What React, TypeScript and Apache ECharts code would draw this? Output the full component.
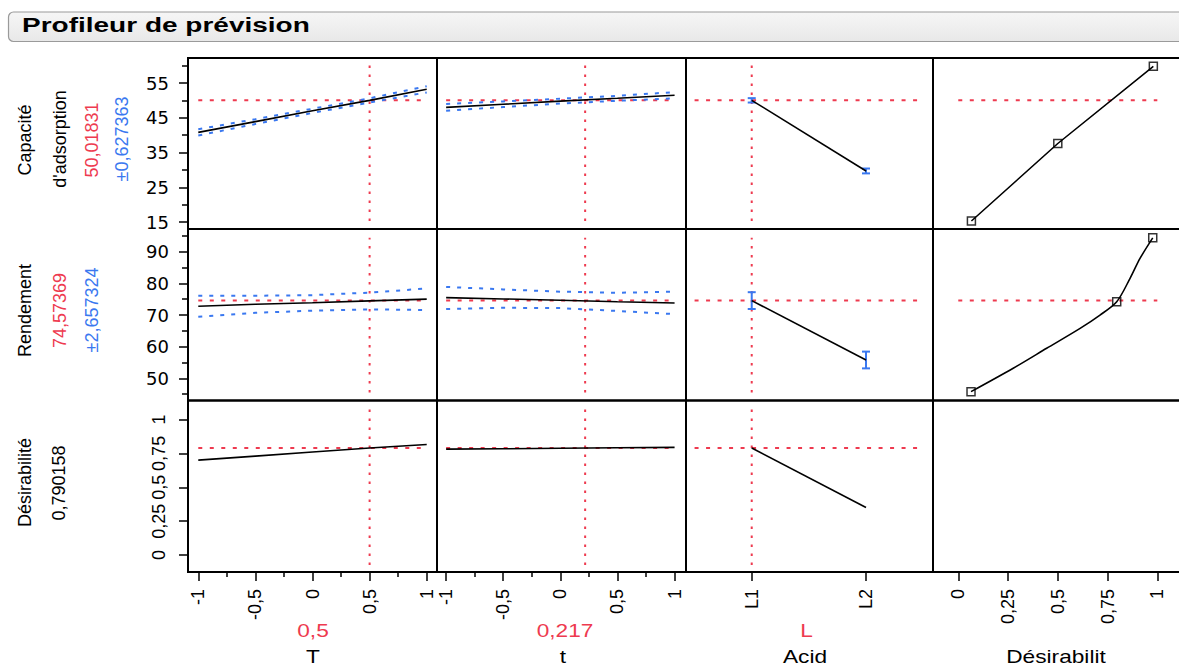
import React, { useEffect, useRef } from 'react';
import * as echarts from 'echarts';

const RED = '#EE3A4F';
const BLUE = '#3A78F0';
const BLACK = '#000000';

// ---------- labels ----------
const titleText = 'Profileur de prévision';
const factorNames = ['T', 't', 'Acid', 'Désirabilit'];
const factorCurrentText = ['0,5', '0,217', 'L'];
const responseCurrent = [50.01831, 74.57369, 0.790158];

// ---------- continuous factors (T and t) ----------
const factorX = [-1, -0.5, 0, 0.5, 1];
const factorCurrent = [0.5, 0.217];

const capVsT = [40.8, 43.9, 47.0, 50.0, 53.2];
const capVsTUpper = [41.7, 44.6, 47.6, 50.6, 54.1];
const capVsTLower = [39.9, 43.2, 46.4, 49.4, 52.3];
const capVst = [48.0, 48.9, 49.8, 50.6, 51.5];
const capVstUpper = [49.0, 49.7, 50.5, 51.3, 52.4];
const capVstLower = [47.0, 48.1, 49.1, 49.9, 50.6];

const rendVsT = [72.8, 73.4, 73.9, 74.5, 75.05];
const rendVsTUpper = [76.1, 76.1, 76.3, 77.1, 78.4];
const rendVsTLower = [69.5, 70.7, 71.4, 71.8, 71.6];
const rendVst = [75.5, 75.1, 74.7, 74.2, 73.8];
const rendVstUpper = [78.9, 78.1, 77.4, 77.05, 77.4];
const rendVstLower = [71.9, 72.3, 72.2, 71.3, 70.3];

const desVsT = [0.70, 0.73, 0.76, 0.79, 0.816];
const desVst = [0.781, 0.784, 0.788, 0.791, 0.794];

// ---------- categorical factor Acid ----------
const acidLevels = ['L1', 'L2'];
const acidX = [0, 1];
const capVsAcid = [50.02, 29.7];
const capVsAcidCI = [0.63, 0.7];
const rendVsAcid = [74.57, 55.8];
const rendVsAcidCI = [2.66, 2.65];
const desVsAcid = [0.79, 0.351];

// ---------- desirability functions ----------
const capDesX = [0.066, 0.5, 0.98];
const capDesY = [15.3, 37.6, 59.8];
const rendDesX = [0.064, 0.276, 0.444, 0.612, 0.712, 0.796, 0.863, 0.913, 0.977];
const rendDesY = [45.8, 53.2, 59.5, 65.8, 70.0, 74.2, 81.6, 87.9, 94.4];
const rendDesHandles = [0, 5, 8];

// ---------- reference line extents ----------
const refVSpan = [[15.3, 60.2], [45.5, 94.4], [-0.074, 1.076]];
const refHSpanFactor = [-1, 1];
const refHSpanAcid = [-0.5, 1.5];
const refHSpanDes = [0, 1];

// ---------- ticks ----------
const factorTicks = [-1, -0.5, 0, 0.5, 1];
const factorTickLabels = ['-1', '-0,5', '0', '0,5', '1'];
const factorMinor = [-0.75, -0.25, 0.25, 0.75];
const desTicks = [0, 0.25, 0.5, 0.75, 1];
const desTickLabels = ['0', '0,25', '0,5', '0,75', '1'];
const capTicks = [15, 25, 35, 45, 55];
const capTickLabels = ['15', '25', '35', '45', '55'];
const capMinor = [20, 30, 40, 50, 60];
const rendTicks = [50, 60, 70, 80, 90];
const rendTickLabels = ['50', '60', '70', '80', '90'];
const rendMinor = [45, 55, 65, 75, 85, 95];

// ---------- layout ----------
const colEdges = [188, 437, 686, 933, 1182];
const rowEdges = [58, 229, 400.5, 572];
const xRanges = [[-1.09, 1.09], [-1.08, 1.1], [-0.575, 1.586], [-0.127, 1.124]];
const yRanges = [[13, 62.2], [43, 97.2], [-0.125, 1.14]];

const fmt = (vals: number[], labels: string[]) => (v: number) => {
  const i = vals.findIndex((t) => Math.abs(t - v) < 1e-9);
  return i >= 0 ? labels[i] : '';
};

function buildOption() {
  const grids: any[] = [];
  const xAxes: any[] = [];
  const yAxes: any[] = [];
  const series: any[] = [];
  const hiddenLine = { show: false, onZero: false };

  for (let r = 0; r < 3; r++) {
    for (let c = 0; c < 4; c++) {
      const g = r * 4 + c;
      grids.push({
        left: colEdges[c],
        top: rowEdges[r],
        width: colEdges[c + 1] - colEdges[c],
        height: rowEdges[r + 1] - rowEdges[r],
        show: true,
        borderColor: BLACK,
        borderWidth: 2,
        backgroundColor: 'transparent',
        containLabel: false,
        outerBoundsMode: 'none',
      });
      const xTicks = c < 2 ? factorTicks : c === 2 ? acidX : desTicks;
      const xLabels = c < 2 ? factorTickLabels : c === 2 ? acidLevels : desTickLabels;
      xAxes.push({
        type: 'value',
        gridIndex: g,
        min: xRanges[c][0],
        max: xRanges[c][1],
        position: 'bottom',
        axisLine: hiddenLine,
        splitLine: { show: false },
        axisTick: { show: r === 2, length: 9, lineStyle: { color: BLACK, width: 1.5 }, customValues: xTicks },
        axisLabel: {
          show: r === 2,
          customValues: xTicks,
          formatter: fmt(xTicks, xLabels),
          rotate: 90,
          margin: 17,
          color: BLACK,
          fontSize: 18,
          fontFamily: 'Liberation Sans',
          hideOverlap: false,
        },
      });
      const yTicks = r === 0 ? capTicks : r === 1 ? rendTicks : desTicks;
      const yLabels = r === 0 ? capTickLabels : r === 1 ? rendTickLabels : desTickLabels;
      yAxes.push({
        type: 'value',
        gridIndex: g,
        min: yRanges[r][0],
        max: yRanges[r][1],
        position: 'left',
        axisLine: hiddenLine,
        splitLine: { show: false },
        axisTick: { show: c === 0, length: 9, lineStyle: { color: BLACK, width: 1.5 }, customValues: yTicks },
        axisLabel: {
          show: c === 0,
          customValues: yTicks,
          formatter: fmt(yTicks, yLabels),
          rotate: r === 2 ? 90 : 0,
          margin: r === 2 ? 20 : 19,
          color: BLACK,
          fontSize: 18,
          fontFamily: r === 2 ? 'Liberation Sans' : 'DejaVu Sans',
          hideOverlap: false,
        },
      });
    }
  }

  // minor tick axes
  const minorX = (g: number, c: number, vals: number[]) => ({
    type: 'value', gridIndex: g, min: xRanges[c][0], max: xRanges[c][1], position: 'bottom',
    axisLine: hiddenLine, splitLine: { show: false }, axisLabel: { show: false },
    axisTick: { show: true, length: 5, lineStyle: { color: BLACK, width: 1.5 }, customValues: vals },
  });
  const minorY = (g: number, r: number, vals: number[]) => ({
    type: 'value', gridIndex: g, min: yRanges[r][0], max: yRanges[r][1], position: 'left',
    axisLine: hiddenLine, splitLine: { show: false }, axisLabel: { show: false },
    axisTick: { show: true, length: 6, lineStyle: { color: BLACK, width: 1.5 }, customValues: vals },
  });
  xAxes.push(minorX(8, 0, factorMinor));
  xAxes.push(minorX(9, 1, factorMinor));
  yAxes.push(minorY(0, 0, capMinor));
  yAxes.push(minorY(4, 1, rendMinor));

  const pts = (xs: number[], ys: number[]) => xs.map((x, i) => [x, ys[i]]);
  const lineS = (g: number, data: number[][], style: any, z: number, extra: any = {}) => ({
    type: 'line', xAxisIndex: g, yAxisIndex: g, data, symbol: 'none', silent: true,
    lineStyle: style, z, ...extra,
  });
  const hRef = (g: number, span: number[], y: number) =>
    lineS(g, [[span[0], y], [span[1], y]], { color: RED, width: 2, type: [4, 7.5] }, 2);
  const vRef = (g: number, x: number, r: number) =>
    lineS(g, [[x, refVSpan[r][0]], [x, refVSpan[r][1]]], { color: RED, width: 2, type: [2.5, 6.5] }, 2);
  const pred = (g: number, data: number[][], extra: any = {}) =>
    lineS(g, data, { color: BLACK, width: 1.6 }, 5, extra);
  const band = (g: number, data: number[][]) =>
    lineS(g, data, { color: BLUE, width: 2, type: [4, 7] }, 3);

  const errBars = (g: number, vals: number[], ci: number[]) => ({
    type: 'custom', xAxisIndex: g, yAxisIndex: g, silent: true, z: 4,
    data: acidX.map((x, i) => [x, vals[i] - ci[i], vals[i] + ci[i]]),
    encode: { x: 0, y: [1, 2] },
    renderItem: (_p: any, api: any) => {
      const x = api.value(0);
      const lo = api.coord([x, api.value(1)]);
      const hi = api.coord([x, api.value(2)]);
      const w = 4;
      const style = { stroke: BLUE, lineWidth: 2 };
      return {
        type: 'group',
        children: [
          { type: 'line', shape: { x1: lo[0], y1: lo[1], x2: hi[0], y2: hi[1] }, style },
          { type: 'line', shape: { x1: lo[0] - w, y1: lo[1], x2: lo[0] + w, y2: lo[1] }, style },
          { type: 'line', shape: { x1: hi[0] - w, y1: hi[1], x2: hi[0] + w, y2: hi[1] }, style },
        ],
      };
    },
  });
  const handles = (g: number, data: number[][]) => ({
    type: 'scatter', xAxisIndex: g, yAxisIndex: g, silent: true, z: 6,
    data, symbol: 'rect', symbolSize: 8,
    itemStyle: { color: 'transparent', borderColor: BLACK, borderWidth: 1.5 },
  });

  // Row 0 : Capacité d'adsorption
  series.push(hRef(0, refHSpanFactor, responseCurrent[0]), vRef(0, factorCurrent[0], 0));
  series.push(band(0, pts(factorX, capVsTUpper)), band(0, pts(factorX, capVsTLower)));
  series.push(pred(0, pts(factorX, capVsT)));
  series.push(hRef(1, refHSpanFactor, responseCurrent[0]), vRef(1, factorCurrent[1], 0));
  series.push(band(1, pts(factorX, capVstUpper)), band(1, pts(factorX, capVstLower)));
  series.push(pred(1, pts(factorX, capVst)));
  series.push(hRef(2, refHSpanAcid, responseCurrent[0]), vRef(2, acidX[0], 0));
  series.push(pred(2, pts(acidX, capVsAcid)), errBars(2, capVsAcid, capVsAcidCI));
  series.push(hRef(3, refHSpanDes, responseCurrent[0]));
  series.push(pred(3, pts(capDesX, capDesY)), handles(3, pts(capDesX, capDesY)));

  // Row 1 : Rendement
  series.push(hRef(4, refHSpanFactor, responseCurrent[1]), vRef(4, factorCurrent[0], 1));
  series.push(band(4, pts(factorX, rendVsTUpper)), band(4, pts(factorX, rendVsTLower)));
  series.push(pred(4, pts(factorX, rendVsT)));
  series.push(hRef(5, refHSpanFactor, responseCurrent[1]), vRef(5, factorCurrent[1], 1));
  series.push(band(5, pts(factorX, rendVstUpper)), band(5, pts(factorX, rendVstLower)));
  series.push(pred(5, pts(factorX, rendVst)));
  series.push(hRef(6, refHSpanAcid, responseCurrent[1]), vRef(6, acidX[0], 1));
  series.push(pred(6, pts(acidX, rendVsAcid)), errBars(6, rendVsAcid, rendVsAcidCI));
  series.push(hRef(7, refHSpanDes, responseCurrent[1]));
  series.push(pred(7, pts(rendDesX, rendDesY), { smooth: 0.3 }));
  series.push(handles(7, rendDesHandles.map((i) => [rendDesX[i], rendDesY[i]])));

  // Row 2 : Désirabilité
  series.push(hRef(8, refHSpanFactor, responseCurrent[2]), vRef(8, factorCurrent[0], 2));
  series.push(pred(8, pts(factorX, desVsT)));
  series.push(hRef(9, refHSpanFactor, responseCurrent[2]), vRef(9, factorCurrent[1], 2));
  series.push(pred(9, pts(factorX, desVst)));
  series.push(hRef(10, refHSpanAcid, responseCurrent[2]), vRef(10, acidX[0], 2));
  series.push(pred(10, pts(acidX, desVsAcid)));

  const rotText = (x: number, y: number, text: string, fill: string) => ({
    type: 'text', x, y, rotation: Math.PI / 2, silent: true,
    style: { text, fill, fontSize: 18, fontFamily: 'Liberation Sans', align: 'center', verticalAlign: 'middle' },
  });
  const flatText = (x: number, y: number, text: string, fill: string) => ({
    type: 'text', x, y, scaleX: 1.26, silent: true,
    style: { text, fill, fontSize: 18, fontFamily: 'Liberation Sans', align: 'center', verticalAlign: 'middle' },
  });

  const graphic: any[] = [
    {
      type: 'rect', silent: true, z: 0,
      shape: { x: 8.5, y: 12, width: 1200, height: 29.5, r: 5 },
      style: {
        fill: { type: 'linear', x: 0, y: 0, x2: 0, y2: 1, colorStops: [{ offset: 0, color: '#f6f6f6' }, { offset: 1, color: '#e8e8e8' }] },
        stroke: '#9a9a9a', lineWidth: 1.2,
      },
    },
    {
      type: 'text', x: 22, y: 25.5, scaleX: 1.4, silent: true,
      style: { text: titleText, fill: BLACK, fontSize: 20, fontWeight: 'bold', fontFamily: 'Liberation Sans', align: 'left', verticalAlign: 'middle' },
    },
    rotText(25, 140, 'Capacité', BLACK),
    rotText(60, 139, "d'adsorption", BLACK),
    rotText(92, 140, '50,01831', RED),
    rotText(122, 139, '±0,627363', BLUE),
    rotText(25, 310.5, 'Rendement', BLACK),
    rotText(60, 310.5, '74,57369', RED),
    rotText(92, 310, '±2,657324', BLUE),
    rotText(25, 482.5, 'Désirabilité', BLACK),
    rotText(58.5, 483, '0,790158', BLACK),
    flatText(313, 630, factorCurrentText[0], RED),
    flatText(565, 630, factorCurrentText[1], RED),
    flatText(806.5, 630, factorCurrentText[2], RED),
    flatText(313, 656, factorNames[0], BLACK),
    flatText(563, 656, factorNames[1], BLACK),
    flatText(805, 656, factorNames[2], BLACK),
    flatText(1056, 656, factorNames[3], BLACK),
  ];

  return {
    animation: false,
    backgroundColor: '#ffffff',
    grid: grids,
    xAxis: xAxes,
    yAxis: yAxes,
    series,
    graphic,
  };
}

export default function App() {
  const ref = useRef<HTMLDivElement>(null);
  useEffect(() => {
    if (!ref.current) return;
    const chart = echarts.init(ref.current, null, { renderer: 'svg' });
    chart.setOption(buildOption() as any);
    return () => chart.dispose();
  }, []);
  return (
    <div
      ref={ref}
      style={{ position: 'absolute', left: 0, top: 0, width: 1179, height: 666, background: '#fff' }}
    />
  );
}
